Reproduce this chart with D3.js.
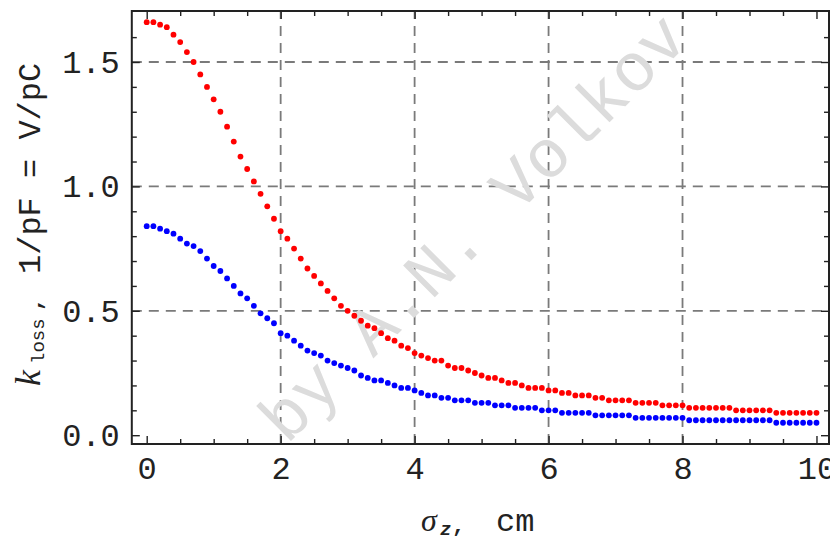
<!DOCTYPE html>
<html>
<head>
<meta charset="utf-8">
<script src="https://cdn.jsdelivr.net/npm/d3@7/dist/d3.min.js"></script>
<style>
  html, body { margin: 0; padding: 0; background: #ffffff; }
  svg { display: block; }
</style>
</head>
<body>
<svg id="chart" width="830" height="541"></svg>
<script>
// Bunch length sigma_z, cm (sampled every 0.1 cm)
const sigmaZ = [
  0.0,0.1,0.2,0.3,0.4,0.5,0.6,0.7,0.8,0.9,
  1.0,1.1,1.2,1.3,1.4,1.5,1.6,1.7,1.8,1.9,
  2.0,2.1,2.2,2.3,2.4,2.5,2.6,2.7,2.8,2.9,
  3.0,3.1,3.2,3.3,3.4,3.5,3.6,3.7,3.8,3.9,
  4.0,4.1,4.2,4.3,4.4,4.5,4.6,4.7,4.8,4.9,
  5.0,5.1,5.2,5.3,5.4,5.5,5.6,5.7,5.8,5.9,
  6.0,6.1,6.2,6.3,6.4,6.5,6.6,6.7,6.8,6.9,
  7.0,7.1,7.2,7.3,7.4,7.5,7.6,7.7,7.8,7.9,
  8.0,8.1,8.2,8.3,8.4,8.5,8.6,8.7,8.8,8.9,
  9.0,9.1,9.2,9.3,9.4,9.5,9.6,9.7,9.8,9.9,
  10.0
];

// Loss factor, V/pC — upper (red) series
const kLossRed = [
  1.66,1.66,1.65,1.64,1.61,1.58,1.54,1.50,1.45,1.40,
  1.35,1.30,1.24,1.18,1.12,1.07,1.02,0.97,0.92,0.87,
  0.82,0.79,0.75,0.71,0.67,0.64,0.61,0.58,0.55,0.52,
  0.50,0.48,0.46,0.44,0.43,0.41,0.39,0.38,0.36,0.35,
  0.33,0.32,0.31,0.30,0.30,0.28,0.27,0.27,0.26,0.25,
  0.24,0.23,0.23,0.22,0.21,0.21,0.20,0.19,0.19,0.19,
  0.18,0.18,0.17,0.17,0.16,0.16,0.16,0.15,0.15,0.14,
  0.14,0.14,0.14,0.13,0.13,0.13,0.13,0.12,0.12,0.12,
  0.12,0.11,0.11,0.11,0.11,0.11,0.11,0.11,0.10,0.10,
  0.10,0.10,0.10,0.10,0.09,0.09,0.09,0.09,0.09,0.09,
  0.09
];

// Loss factor, V/pC — lower (blue) series
const kLossBlue = [
  0.84,0.84,0.83,0.82,0.81,0.79,0.77,0.76,0.74,0.71,
  0.68,0.66,0.63,0.60,0.57,0.55,0.52,0.49,0.47,0.45,
  0.41,0.40,0.38,0.36,0.34,0.33,0.32,0.30,0.29,0.28,
  0.27,0.26,0.24,0.23,0.22,0.22,0.21,0.20,0.19,0.19,
  0.18,0.17,0.16,0.16,0.15,0.15,0.14,0.14,0.14,0.13,
  0.13,0.13,0.12,0.12,0.12,0.11,0.11,0.11,0.11,0.10,
  0.10,0.10,0.09,0.09,0.09,0.09,0.09,0.08,0.08,0.08,
  0.08,0.08,0.08,0.07,0.07,0.07,0.07,0.07,0.07,0.07,
  0.07,0.06,0.06,0.06,0.06,0.06,0.06,0.06,0.06,0.06,
  0.06,0.06,0.06,0.06,0.05,0.05,0.05,0.05,0.05,0.05,
  0.05
];

// Tick positions
const xMajorTicks = [0, 2, 4, 6, 8, 10];
const xMinorTicks = [0.5, 1, 1.5, 2.5, 3, 3.5, 4.5, 5, 5.5, 6.5, 7, 7.5, 8.5, 9, 9.5];
const yMajorTicks = [0, 0.5, 1.0, 1.5];
const yMinorTicks = [0.1, 0.2, 0.3, 0.4, 0.6, 0.7, 0.8, 0.9, 1.1, 1.2, 1.3, 1.4, 1.6];
const xGrid = [2, 4, 6, 8];
const yGrid = [0.5, 1.0, 1.5];

const svg = d3.select("#chart");
const plot = { left: 131.8, top: 11, right: 829, bottom: 444 };

const x = d3.scaleLinear().domain([-0.2225, 10.187]).range([plot.left, plot.right]);
const y = d3.scaleLinear().domain([-0.0354, 1.705]).range([plot.bottom, plot.top]);

const mono = "'Liberation Mono', 'Courier New', monospace";
const serif = "'Liberation Serif', 'Times New Roman', serif";
const ink = "#222";

// dashed grid
const grid = svg.append("g").attr("stroke", "#7a7a7a").attr("stroke-width", 1.8)
  .attr("stroke-dasharray", "10,7");
grid.selectAll("line.gx").data(xGrid).join("line").attr("class", "gx")
  .attr("x1", d => x(d)).attr("x2", d => x(d))
  .attr("y1", plot.bottom).attr("y2", plot.top);
grid.selectAll("line.gy").data(yGrid).join("line").attr("class", "gy")
  .attr("x1", plot.left).attr("x2", plot.right)
  .attr("y1", d => y(d)).attr("y2", d => y(d));

// author watermark
svg.append("text")
  .attr("transform", "translate(488.7,243.2) rotate(-45)")
  .attr("text-anchor", "middle")
  .attr("font-family", mono)
  .attr("font-size", 68)
  .attr("fill", "#dcdcdc")
  .text("by A.N. Volkov");

// data points
const series = [
  { values: kLossRed, color: "#ff0000" },
  { values: kLossBlue, color: "#0000ff" }
];
series.forEach(s => {
  svg.append("g").selectAll("circle")
    .data(sigmaZ.map((sz, i) => [sz, s.values[i]]))
    .join("circle")
    .attr("cx", d => x(d[0]))
    .attr("cy", d => y(d[1]))
    .attr("r", 2.9)
    .attr("fill", s.color);
});

// axes: ticks point inward on all four sides
function styleAxis(g) {
  g.select(".domain").remove();
  g.selectAll(".tick line").attr("stroke", ink).attr("stroke-width", 1.4);
  g.selectAll(".tick text").attr("fill", ink).attr("font-family", mono).attr("font-size", 32);
}

svg.append("g").attr("transform", `translate(0,${plot.bottom})`)
  .call(d3.axisBottom(x).tickValues(xMajorTicks).tickSize(-8).tickPadding(12.5)
    .tickFormat(d3.format("d")))
  .call(styleAxis);
svg.append("g").attr("transform", `translate(0,${plot.bottom})`)
  .call(d3.axisBottom(x).tickValues(xMinorTicks).tickSize(-5).tickFormat(""))
  .call(styleAxis);
svg.append("g").attr("transform", `translate(0,${plot.top})`)
  .call(d3.axisTop(x).tickValues(xMajorTicks).tickSize(-8).tickFormat(""))
  .call(styleAxis);
svg.append("g").attr("transform", `translate(0,${plot.top})`)
  .call(d3.axisTop(x).tickValues(xMinorTicks).tickSize(-5).tickFormat(""))
  .call(styleAxis);

svg.append("g").attr("transform", `translate(${plot.left},0)`)
  .call(d3.axisLeft(y).tickValues(yMajorTicks).tickSize(-8).tickPadding(12)
    .tickFormat(d3.format(".1f")))
  .call(styleAxis);
svg.append("g").attr("transform", `translate(${plot.left},0)`)
  .call(d3.axisLeft(y).tickValues(yMinorTicks).tickSize(-5).tickFormat(""))
  .call(styleAxis);
svg.append("g").attr("transform", `translate(${plot.right},0)`)
  .call(d3.axisRight(y).tickValues(yMajorTicks).tickSize(-8).tickFormat(""))
  .call(styleAxis);
svg.append("g").attr("transform", `translate(${plot.right},0)`)
  .call(d3.axisRight(y).tickValues(yMinorTicks).tickSize(-5).tickFormat(""))
  .call(styleAxis);

// frame
svg.append("rect")
  .attr("x", plot.left).attr("y", plot.top)
  .attr("width", plot.right - plot.left).attr("height", plot.bottom - plot.top)
  .attr("fill", "none").attr("stroke", ink).attr("stroke-width", 2);

// x-axis title: sigma_z, cm
const xt = svg.append("g").attr("fill", ink);
xt.append("text").attr("x", 421).attr("y", 531)
  .attr("font-family", serif).attr("font-style", "italic").attr("font-size", 32).text("σ");
xt.append("text").attr("x", 440).attr("y", 535)
  .attr("font-family", mono).attr("font-style", "italic").attr("font-weight", "bold")
  .attr("font-size", 19).text("z");
xt.append("text").attr("x", 452).attr("y", 532)
  .attr("font-family", mono).attr("font-weight", "bold").attr("font-size", 22).text(",");
xt.append("text").attr("x", 496).attr("y", 531)
  .attr("font-family", mono).attr("font-size", 32).text("cm");

// y-axis title: k_loss, 1/pF = V/pC
const yt = svg.append("g").attr("transform", "rotate(-90)").attr("fill", ink);
yt.append("text").attr("x", -386).attr("y", 40)
  .attr("font-family", serif).attr("font-style", "italic").attr("font-size", 36).text("k");
yt.append("text").attr("x", -364).attr("y", 44)
  .attr("font-family", mono).attr("font-size", 19).text("loss");
yt.append("text").attr("x", -311).attr("y", 41)
  .attr("font-family", mono).attr("font-weight", "bold").attr("font-size", 22).text(",");
yt.append("text").attr("x", -274).attr("y", 40)
  .attr("font-family", mono).attr("font-size", 32).text("1/pF = V/pC");
</script>
</body>
</html>
